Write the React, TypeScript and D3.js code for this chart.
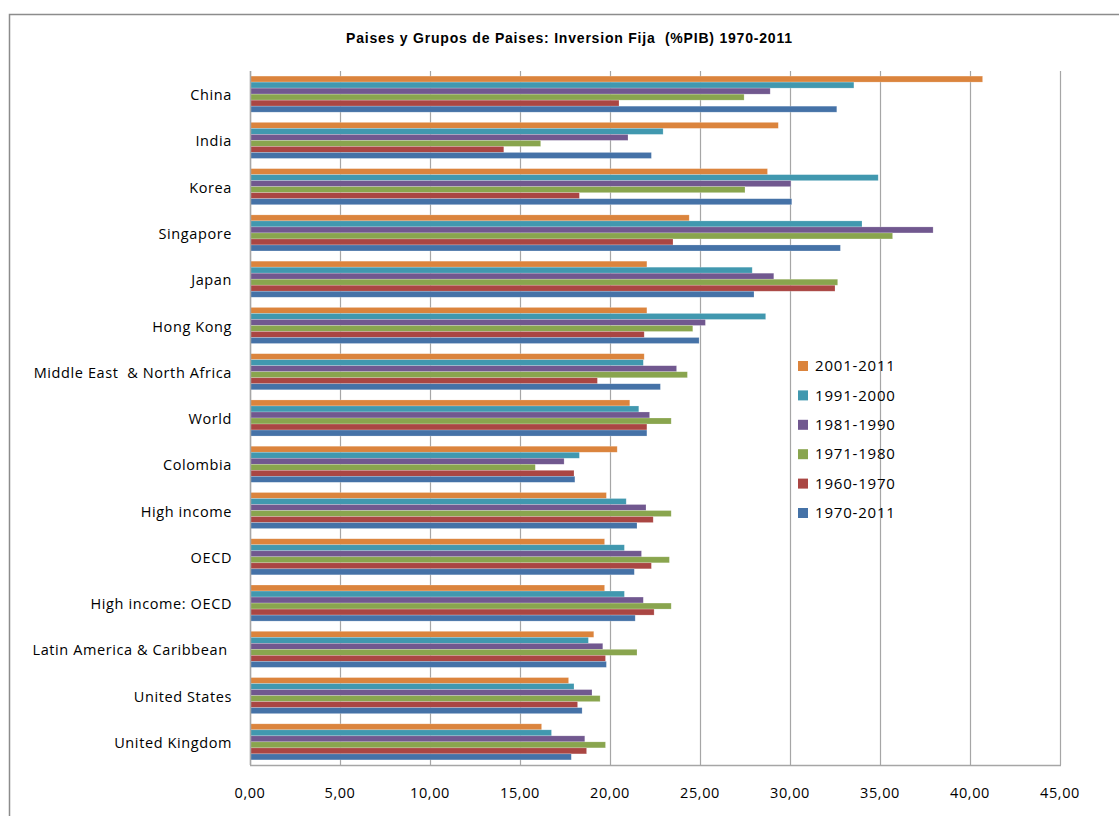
import { useRef, useEffect } from "react";
import * as d3 from "d3";

// ── Data ──────────────────────────────────────────────────────────────────────

const COUNTRIES = [
  "China",
  "India",
  "Korea",
  "Singapore",
  "Japan",
  "Hong Kong",
  "Middle East  & North Africa",
  "World",
  "Colombia",
  "High income",
  "OECD",
  "High income: OECD",
  "Latin America & Caribbean ",
  "United States",
  "United Kingdom",
];

// series, top bar to bottom bar inside each group
const PERIODS = ["2001-2011", "1991-2000", "1981-1990", "1971-1980", "1960-1970", "1970-2011"];

const P2001_2011 = [40.7, 29.35, 28.75, 24.4, 22.05, 22.05, 21.9, 21.1, 20.4, 19.8, 19.7, 19.7, 19.1, 17.7, 16.2];
const P1991_2000 = [33.55, 22.95, 34.9, 34.0, 27.9, 28.65, 21.85, 21.6, 18.3, 20.9, 20.8, 20.8, 18.8, 18.0, 16.75];
const P1981_1990 = [28.9, 21.0, 30.05, 37.95, 29.1, 25.3, 23.7, 22.2, 17.45, 22.0, 21.75, 21.85, 19.6, 19.0, 18.6];
const P1971_1980 = [27.45, 16.15, 27.5, 35.7, 32.65, 24.6, 24.3, 23.4, 15.85, 23.4, 23.3, 23.4, 21.5, 19.45, 19.75];
const P1960_1970 = [20.5, 14.1, 18.3, 23.5, 32.5, 21.9, 19.3, 22.05, 18.0, 22.4, 22.3, 22.45, 19.75, 18.2, 18.7];
const P1970_2011 = [32.6, 22.3, 30.1, 32.8, 28.0, 24.95, 22.8, 22.05, 18.05, 21.5, 21.35, 21.4, 19.8, 18.45, 17.85];

const SERIES = [P2001_2011, P1991_2000, P1981_1990, P1971_1980, P1960_1970, P1970_2011];
const COLORS = ["#DB843D", "#4198AF", "#71588F", "#89A54E", "#AA4643", "#4572A7"];

const X_TICKS = [0, 5, 10, 15, 20, 25, 30, 35, 40, 45];

const TITLE = "Paises y Grupos de Paises: Inversion Fija  (%PIB) 1970-2011";

// ── Layout ────────────────────────────────────────────────────────────────────

const W = 1119;
const H = 816;
const PLOT = { left: 250, right: 1060, top: 71, bottom: 765 };
const FONT = "'Open Sans', 'Liberation Sans', sans-serif";
const GRID = "#A6A6A6";

function render(svg: SVGSVGElement): void {
  const root = d3.select(svg);
  root.selectAll("*").remove();

  // chart frame
  root
    .append("rect")
    .attr("x", 9.5)
    .attr("y", 14.5)
    .attr("width", 1300)
    .attr("height", 1000)
    .attr("fill", "#fff")
    .attr("stroke", "#8C8C8C")
    .attr("stroke-width", 1.5);

  root
    .append("text")
    .attr("x", 569)
    .attr("y", 43)
    .attr("text-anchor", "middle")
    .attr("font-family", "'Liberation Sans', Arial, sans-serif")
    .attr("font-weight", "bold")
    .attr("font-size", 14)
    .attr("textLength", 446)
    .attr("lengthAdjust", "spacing")
    .attr("fill", "#000")
    .style("white-space", "pre")
    .text(TITLE);

  const x = d3.scaleLinear().domain([0, 45]).range([PLOT.left, PLOT.right]);
  const y0 = d3
    .scaleBand()
    .domain(COUNTRIES)
    .range([PLOT.top, PLOT.bottom])
    .paddingInner(0.22)
    .paddingOuter(0.11);
  const y1 = d3.scaleBand().domain(PERIODS).range([0, y0.bandwidth()]);

  // vertical grid lines
  root
    .selectAll(".grid")
    .data(X_TICKS)
    .join("line")
    .attr("x1", (d) => Math.round(x(d)) + 0.5)
    .attr("x2", (d) => Math.round(x(d)) + 0.5)
    .attr("y1", PLOT.top)
    .attr("y2", PLOT.bottom)
    .attr("stroke", GRID)
    .attr("stroke-width", 1.2);

  // bars
  SERIES.forEach((vals, si) => {
    root
      .append("g")
      .selectAll("rect")
      .data(vals)
      .join("rect")
      .attr("x", x(0))
      .attr("y", (_, i) => (y0(COUNTRIES[i]) ?? 0) + (y1(PERIODS[si]) ?? 0))
      .attr("width", (d) => x(d) - x(0))
      .attr("height", y1.bandwidth())
      .attr("fill", COLORS[si])
      .attr("stroke", "#fff")
      .attr("stroke-opacity", 0.35)
      .attr("stroke-width", 0.6);
  });

  // axes lines
  root
    .append("line")
    .attr("x1", PLOT.left + 0.5)
    .attr("x2", PLOT.left + 0.5)
    .attr("y1", PLOT.top)
    .attr("y2", PLOT.bottom)
    .attr("stroke", GRID)
    .attr("stroke-width", 1.5);
  root
    .append("line")
    .attr("x1", PLOT.left)
    .attr("x2", PLOT.right + 1)
    .attr("y1", PLOT.bottom + 0.5)
    .attr("y2", PLOT.bottom + 0.5)
    .attr("stroke", GRID)
    .attr("stroke-width", 1.5);

  // category labels
  root
    .selectAll(".cat")
    .data(COUNTRIES)
    .join("text")
    .attr("x", 232)
    .attr("y", (d) => (y0(d) ?? 0) + y0.bandwidth() / 2 + 1)
    .attr("dy", "0.35em")
    .attr("text-anchor", "end")
    .attr("font-family", FONT)
    .attr("font-size", 14.5)
    .attr("letter-spacing", 0.6)
    .attr("fill", "#000")
    .style("white-space", "pre")
    .text((d) => d);

  // x tick labels
  root
    .selectAll(".tick")
    .data(X_TICKS)
    .join("text")
    .attr("x", (d) => x(d))
    .attr("y", 798)
    .attr("text-anchor", "middle")
    .attr("font-family", FONT)
    .attr("font-size", 14.5)
    .attr("letter-spacing", 0.6)
    .attr("fill", "#000")
    .text((d) => d3.format(".2f")(d).replace(".", ","));

  // legend
  const lg = root.append("g").attr("transform", "translate(798,366)");
  PERIODS.forEach((p, i) => {
    const row = lg.append("g").attr("transform", `translate(0,${i * 29.4})`);
    row
      .append("rect")
      .attr("x", 0)
      .attr("y", -5)
      .attr("width", 10)
      .attr("height", 10)
      .attr("fill", COLORS[i]);
    row
      .append("text")
      .attr("x", 17)
      .attr("y", 0)
      .attr("dy", "0.35em")
      .attr("font-family", FONT)
      .attr("font-size", 15)
      .attr("letter-spacing", 0.8)
      .attr("fill", "#000")
      .text(p);
  });
}

export default function App() {
  const svgRef = useRef<SVGSVGElement>(null);

  useEffect(() => {
    if (svgRef.current) render(svgRef.current);
  }, []);

  return (
    <svg
      ref={svgRef}
      width={W}
      height={H}
      viewBox={`0 0 ${W} ${H}`}
      style={{ position: "absolute", left: 0, top: 0, background: "#fff" }}
    />
  );
}
